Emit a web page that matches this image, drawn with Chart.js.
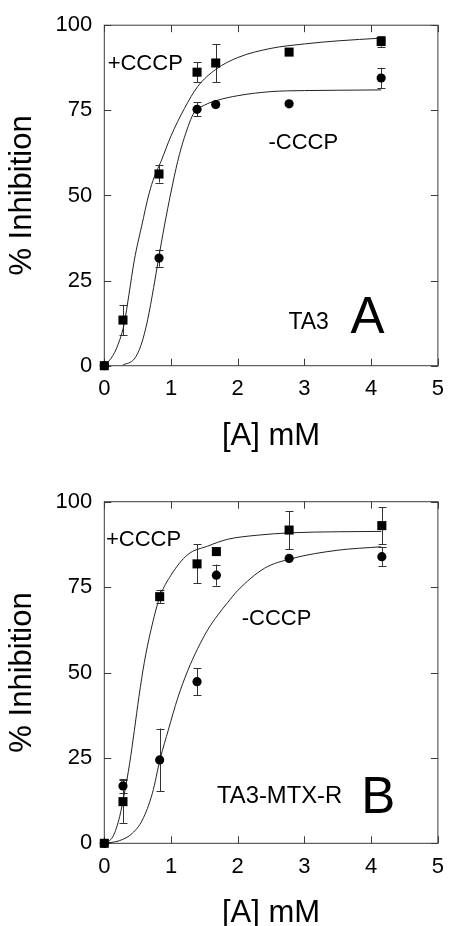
<!DOCTYPE html>
<html>
<head>
<meta charset="utf-8">
<script src="https://cdn.jsdelivr.net/npm/chart.js@4.4.1/dist/chart.umd.min.js"></script>
<style>
html, body { margin: 0; padding: 0; background: #fff; overflow: hidden; width: 454px; height: 926px; }
canvas { position: absolute; left: 0; }
#chartA { top: 0; }
#chartB { top: 460px; }
</style>
</head>
<body>
<canvas id="chartA" width="454" height="460"></canvas>
<canvas id="chartB" width="454" height="480"></canvas>
<script>
// 축 눈금
const xTicks = [0, 1, 2, 3, 4, 5];
const yTicks = [0, 25, 50, 75, 100];

// 패널 A (TA3) 측정값
const dosePlusA = [0, 0.28, 0.82, 1.39, 1.67, 2.77, 4.15];
const plusA = [0, 13.4, 56.3, 86.2, 88.9, 92.1, 95.2];
const plusErrA = [0, 4.5, 2.5, 3, 5.6, 0, 1.5];
const doseMinusA = [0, 0.82, 1.39, 1.67, 2.77, 4.15];
const minusA = [0, 31.6, 75.3, 76.7, 76.9, 84.5];
const minusErrA = [0, 2.5, 2, 0, 0, 3];

// 패널 A 맞춤 곡선
const fitPlusXA = [0, 0.13, 0.23, 0.3, 0.37, 0.45, 0.56, 0.67, 0.75, 0.85, 1.0, 1.2, 1.4, 1.67, 2.0, 2.5, 3.0, 3.5, 4.15];
const fitPlusYA = [0, 3, 7.5, 12.5, 21, 31, 41, 50.5, 55.5, 60, 67.5, 75.5, 82, 87, 90.5, 93.2, 94.5, 95.4, 96.2];
const fitMinusXA = [0.28, 0.45, 0.55, 0.65, 0.74, 0.81, 0.9, 1.0, 1.1, 1.2, 1.35, 1.5, 1.67, 2.0, 2.5, 3.0, 3.5, 4.15];
const fitMinusYA = [0.2, 2, 6, 13.5, 23, 31, 41, 51, 60, 67, 74.5, 76.5, 77.8, 79.3, 80.5, 80.8, 80.9, 81.0];

// 패널 B (TA3-MTX-R) 측정값
const doseB = [0, 0.28, 0.83, 1.39, 1.68, 2.77, 4.16];
const plusB = [0, 12.2, 72.2, 81.8, 85.4, 91.7, 93.0];
const plusErrB = [0, 6.4, 2, 5.7, 0, 5.6, 5.4];
const minusB = [0, 16.8, 24.4, 47.3, 78.5, 83.4, 83.9];
const minusErrB = [0, 2, 9.2, 3.9, 3.1, 0, 2.7];

// 패널 B 맞춤 곡선
const fitPlusXB = [0, 0.13, 0.23, 0.3, 0.38, 0.45, 0.52, 0.6, 0.7, 0.83, 1.0, 1.25, 1.55, 1.85, 2.3, 2.8, 3.5, 4.15];
const fitPlusYB = [0, 2, 7.8, 14.5, 23.4, 33, 43, 53, 62.5, 72, 78.5, 84.5, 87, 89, 90.2, 90.9, 91.2, 91.3];
const fitMinusXB = [0, 0.23, 0.42, 0.57, 0.72, 0.84, 0.96, 1.1, 1.25, 1.4, 1.55, 1.7, 1.85, 2.0, 2.4, 2.8, 3.5, 4.15];
const fitMinusYB = [0, 0.8, 2.9, 6.8, 14.6, 24.9, 33.2, 42.5, 50.5, 57, 62.5, 66.8, 70.5, 74, 80.5, 83.3, 85.8, 86.8];

Chart.defaults.font.family = '"Liberation Sans", Arial, sans-serif';
Chart.defaults.color = '#000';

function pts(xs, ys) {
    return xs.map((x, i) => ({ x: x, y: ys[i] }));
}

// 테두리와 안쪽 눈금
const frameTicks = {
    id: 'frameTicks',
    beforeDatasetsDraw(chart) {
        const { ctx, chartArea: a, scales: { x, y } } = chart;
        ctx.save();
        ctx.strokeStyle = '#3a3a3a';
        ctx.lineWidth = 1;
        ctx.strokeRect(a.left, a.top, a.width, a.height);
        ctx.beginPath();
        xTicks.forEach(v => {
            const px = Math.round(x.getPixelForValue(v)) + 0.5;
            ctx.moveTo(px, a.bottom); ctx.lineTo(px, a.bottom - 7);
            ctx.moveTo(px, a.top); ctx.lineTo(px, a.top + 7);
        });
        yTicks.forEach(v => {
            const py = Math.round(y.getPixelForValue(v)) + 0.5;
            ctx.moveTo(a.left, py); ctx.lineTo(a.left + 7, py);
            ctx.moveTo(a.right, py); ctx.lineTo(a.right - 7, py);
        });
        ctx.stroke();
        ctx.restore();
    }
};

// 오차 막대
const errorBars = {
    id: 'errorBars',
    beforeDatasetsDraw(chart) {
        const { ctx, scales: { x, y } } = chart;
        ctx.save();
        ctx.strokeStyle = '#333';
        ctx.lineWidth = 1;
        chart.data.datasets.forEach(ds => {
            if (!ds.err) return;
            ds.data.forEach((p, i) => {
                const e = ds.err[i];
                if (!e) return;
                const px = Math.round(x.getPixelForValue(p.x)) + 0.5;
                const y1 = y.getPixelForValue(p.y + e);
                const y2 = y.getPixelForValue(p.y - e);
                ctx.beginPath();
                ctx.moveTo(px, y1); ctx.lineTo(px, y2);
                ctx.moveTo(px - 4, Math.round(y1) + 0.5); ctx.lineTo(px + 4, Math.round(y1) + 0.5);
                ctx.moveTo(px - 4, Math.round(y2) + 0.5); ctx.lineTo(px + 4, Math.round(y2) + 0.5);
                ctx.stroke();
            });
        });
        ctx.restore();
    }
};

// 그림 안의 글자
const notes = {
    id: 'notes',
    afterDatasetsDraw(chart, args, opts) {
        const { ctx, scales: { x, y } } = chart;
        ctx.save();
        ctx.fillStyle = '#000';
        ctx.textAlign = 'left';
        ctx.textBaseline = 'alphabetic';
        opts.items.forEach(n => {
            ctx.font = n.size + 'px "Liberation Sans", Arial, sans-serif';
            ctx.fillText(n.text, x.getPixelForValue(n.x), y.getPixelForValue(n.y));
        });
        ctx.restore();
    }
};

function makePanel(id, cfg) {
    const ctx = document.getElementById(id).getContext('2d');
    return new Chart(ctx, {
        type: 'scatter',
        data: {
            datasets: [
                {
                    data: pts(cfg.plusX, cfg.plus), err: cfg.plusErr,
                    pointStyle: 'rect', pointRadius: 6.4, backgroundColor: '#000', borderColor: '#000',
                    borderWidth: 0, clip: false, order: 0
                },
                {
                    data: pts(cfg.minusX, cfg.minus), err: cfg.minusErr,
                    pointStyle: 'circle', pointRadius: 4.6, backgroundColor: '#000', borderColor: '#000',
                    borderWidth: 0, clip: false, order: 0
                },
                {
                    data: pts(cfg.fitPlusX, cfg.fitPlusY), showLine: true, pointRadius: 0,
                    borderColor: '#222', borderWidth: 1, cubicInterpolationMode: 'monotone', order: 1
                },
                {
                    data: pts(cfg.fitMinusX, cfg.fitMinusY), showLine: true, pointRadius: 0,
                    borderColor: '#222', borderWidth: 1, cubicInterpolationMode: 'monotone', order: 1
                }
            ]
        },
        options: {
            responsive: false,
            animation: false,
            devicePixelRatio: 1,
            layout: { padding: { top: cfg.top, right: 7.7, left: 0, bottom: 0 } },
            scales: {
                x: {
                    type: 'linear', min: 0, max: 5,
                    afterBuildTicks: s => { s.ticks = xTicks.map(v => ({ value: v })); },
                    afterFit: s => { s.height = cfg.xh; },
                    grid: { display: false, drawTicks: false },
                    border: { display: false },
                    ticks: { font: { size: 22 }, padding: 10, maxRotation: 0 },
                    title: { display: true, text: '[A] mM', font: { size: 31 }, padding: { top: 0, bottom: cfg.tb } }
                },
                y: {
                    type: 'linear', min: 0, max: 100,
                    afterBuildTicks: s => { s.ticks = yTicks.map(v => ({ value: v })); },
                    afterFit: s => { s.width = 104.3; },
                    grid: { display: false, drawTicks: false },
                    border: { display: false },
                    ticks: { font: { size: 22 }, padding: 12 },
                    title: { display: true, text: '% Inhibition', font: { size: 31 }, padding: { top: 4, bottom: 0 } }
                }
            },
            plugins: {
                legend: { display: false },
                tooltip: { enabled: false },
                notes: { items: cfg.notes }
            }
        },
        plugins: [frameTicks, errorBars, notes]
    });
}

makePanel('chartA', {
    top: 24, xh: 94.3, tb: 5.4,
    plusX: dosePlusA, plus: plusA, plusErr: plusErrA,
    minusX: doseMinusA, minus: minusA, minusErr: minusErrA,
    fitPlusX: fitPlusXA, fitPlusY: fitPlusYA, fitMinusX: fitMinusXA, fitMinusY: fitMinusYA,
    notes: [
        { text: '+CCCP', x: 0.05, y: 86.8, size: 22 },
        { text: '-CCCP', x: 2.46, y: 63.7, size: 22 },
        { text: 'TA3', x: 2.76, y: 10.8, size: 23 },
        { text: 'A', x: 3.69, y: 9.6, size: 51 }
    ]
});

makePanel('chartB', {
    top: 41.7, xh: 96.7, tb: 8.4,
    plusX: doseB, plus: plusB, plusErr: plusErrB,
    minusX: doseB, minus: minusB, minusErr: minusErrB,
    fitPlusX: fitPlusXB, fitPlusY: fitPlusYB, fitMinusX: fitMinusXB, fitMinusY: fitMinusYB,
    notes: [
        { text: '+CCCP', x: 0.025, y: 87.0, size: 22 },
        { text: '-CCCP', x: 2.06, y: 63.9, size: 22 },
        { text: 'TA3-MTX-R', x: 1.69, y: 11.8, size: 23.8 },
        { text: 'B', x: 3.85, y: 8.9, size: 51 }
    ]
});
</script>
</body>
</html>
